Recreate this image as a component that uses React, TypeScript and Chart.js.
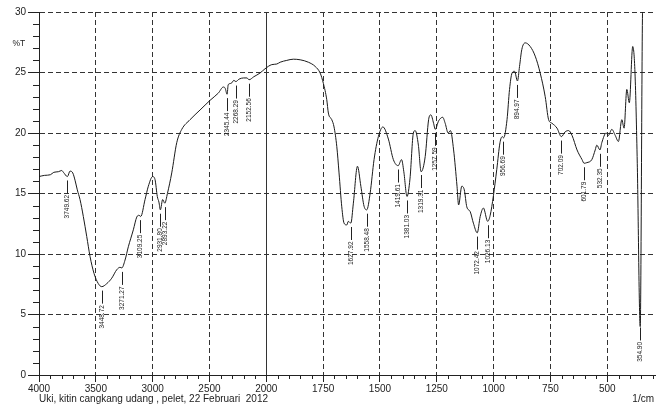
import { useEffect, useRef } from 'react';
import { Chart, registerables } from 'chart.js';

Chart.register(...registerables);

// ---- data (wavenumber in 1/cm, transmittance in %T) ----
const wavenumbers = [
  4000, 3950, 3900, 3870, 3830, 3800, 3785, 3750, 3727, 3703, 3683, 3663, 3639, 3610, 3580, 3551,
  3516, 3478, 3448, 3404, 3360, 3316, 3287, 3271, 3243, 3214, 3170, 3140, 3120, 3105, 3067, 3038,
  3000, 2979, 2959, 2945, 2932, 2912, 2893, 2870, 2832, 2788, 2744, 2671, 2583, 2495, 2422, 2378,
  2362, 2345, 2335, 2310, 2285, 2268, 2240, 2200, 2170, 2152, 2110, 2056, 2012, 1976, 1954, 1939,
  1910, 1881, 1851, 1815, 1785, 1763, 1749, 1734, 1727, 1712, 1702, 1690, 1680, 1668, 1658, 1646,
  1639, 1628, 1617, 1599, 1584, 1570, 1558, 1543, 1526, 1507, 1487, 1463, 1441, 1420, 1405, 1395,
  1381, 1368, 1353, 1345, 1331, 1319, 1301, 1286, 1276, 1264, 1257, 1242, 1224, 1213, 1200, 1190,
  1176, 1161, 1154, 1140, 1129, 1118, 1103, 1089, 1072, 1059, 1045, 1026, 1015, 1001, 986, 972,
  962, 956, 941, 930, 919, 908, 895, 886, 876, 861, 839, 817, 795, 773, 758, 743,
  721, 702, 685, 670, 655, 633, 611, 602, 590, 568, 553, 546, 532, 524, 505, 495,
  480, 465, 451, 436, 426, 414, 403, 388, 378, 368, 355, 345, 338, 290,
];
const transmittance = [
  16.4, 16.5, 16.55, 16.75, 16.8, 16.9, 16.75, 16.4, 16.85, 16.7, 16.1, 15.3, 14.5, 13.1, 11.45, 9.8,
  8.4, 7.55, 7.3, 7.55, 8.0, 8.7, 8.9, 8.85, 9.5, 10.6, 12.0, 13.05, 13.2, 13.1, 14.5, 15.6,
  16.4, 16.15, 14.75, 14.3, 13.65, 14.5, 14.2, 15.0, 16.7, 19.2, 20.3, 21.1, 21.9, 22.7, 23.3, 23.8,
  23.7, 23.2, 24.0, 24.1, 24.35, 24.25, 24.45, 24.55, 24.55, 24.4, 24.65, 24.95, 25.3, 25.65, 25.7, 25.85,
  26.0, 26.1, 26.05, 25.85, 25.5, 24.95, 24.1, 22.75, 21.65, 21.1, 20.5, 18.9, 16.7, 13.9, 12.55, 12.4,
  12.7, 12.55, 14.2, 17.25, 15.6, 13.95, 13.65, 15.05, 17.8, 19.7, 20.5, 19.5, 17.8, 17.3, 17.8, 16.8,
  14.75, 16.2, 20.0, 20.2, 19.0, 16.8, 18.05, 21.1, 21.5, 20.8, 20.3, 21.0, 21.3, 20.8, 20.0, 20.2,
  18.6, 15.6, 14.05, 15.6, 15.3, 13.9, 13.5, 12.55, 11.75, 13.1, 13.8, 12.7, 13.2, 14.8, 17.0, 19.2,
  19.7, 19.6, 21.1, 23.6, 24.95, 25.1, 24.3, 25.5, 26.9, 27.45, 27.15, 26.35, 24.95, 23.0, 21.1, 20.8,
  20.4, 19.7, 20.1, 20.2, 19.8, 18.6, 17.8, 17.5, 17.55, 17.8, 18.6, 19.0, 18.6, 19.2, 20.0, 19.8,
  20.3, 19.8, 19.3, 21.1, 20.4, 23.6, 22.5, 27.15, 24.95, 17.5, 4.0, 29.9, 33, 35,
];

const peakWavenumbers = [
  3749.62, 3448.72, 3271.27, 3109.25, 2931.8, 2893.22, 2345.44, 2268.29, 2152.56, 1627.92, 1558.48,
  1419.61, 1381.03, 1319.31, 1257.59, 1072.42, 1026.13, 956.69, 894.97, 702.09, 601.79, 532.35, 354.9,
];
const peakLabels = [
  '3749.62', '3448.72', '3271.27', '3109.25', '2931.80', '2893.22', '2345.44', '2268.29', '2152.56',
  '1627.92', '1558.48', '1419.61', '1381.03', '1319.31', '1257.59', '1072.42', '1026.13', '956.69',
  '894.97', '702.09', '601.79', '532.35', '354.90',
];

const xTickValues = [4000, 3500, 3000, 2500, 2000, 1750, 1500, 1250, 1000, 750, 500];
const xTickLabels = ['4000', '3500', '3000', '2500', '2000', '1750', '1500', '1250', '1000', '750', '500'];
const yTickValues = [0, 5, 10, 15, 20, 25, 30];
const yTickLabels = ['0', '5', '10', '15', '20', '25', '30'];
const yAxisTitle = '%T';
const xAxisUnit = '1/cm';
const sampleNote = 'Uki, kitin cangkang udang , pelet, 22 Februari  2012';

// ---- axis mapping (Shimadzu style: scale doubles below 2000 1/cm) ----
const SPLIT = 2000;
const WN_START = 4000;
const WN_END = 290;
const toU = (w: number) => (w >= SPLIT ? (WN_START - w) / 500 : (WN_START - SPLIT) / 500 + (SPLIT - w) / 250);

const FONT = '"Liberation Sans", Arial, sans-serif';
const INK = '#222';
const GRID = '#333';

function valueAt(w: number): number {
  for (let i = 0; i < wavenumbers.length - 1; i++) {
    const a = wavenumbers[i];
    const b = wavenumbers[i + 1];
    if (w <= a && w >= b) {
      const t = (a - w) / (a - b);
      return transmittance[i] + t * (transmittance[i + 1] - transmittance[i]);
    }
  }
  return transmittance[transmittance.length - 1];
}

const align = (p: number) => Math.round(p) + 0.5;

const annotations = {
  id: 'ftirAnnotations',
  beforeDatasetsDraw(chart: any) {
    const { ctx, chartArea, scales } = chart;
    const px = align(scales.x.getPixelForValue(toU(SPLIT)));
    ctx.save();
    ctx.strokeStyle = GRID;
    ctx.lineWidth = 1;
    ctx.beginPath();
    ctx.moveTo(px, chartArea.top);
    ctx.lineTo(px, chartArea.bottom);
    ctx.stroke();
    ctx.restore();
  },
  afterDraw(chart: any) {
    const { ctx, chartArea, scales } = chart;
    const x = scales.x;
    const y = scales.y;
    ctx.save();
    ctx.strokeStyle = INK;
    ctx.lineWidth = 1;
    ctx.beginPath();
    // minor ticks, y
    for (let v = 0; v <= 30; v++) {
      if (v % 5 === 0) continue;
      const py = align(y.getPixelForValue(v));
      ctx.moveTo(chartArea.left - 6, py);
      ctx.lineTo(chartArea.left, py);
    }
    // minor ticks, x
    const minor: number[] = [];
    for (let w = WN_START; w > SPLIT; w -= 100) minor.push(w);
    for (let w = SPLIT; w >= 300; w -= 50) minor.push(w);
    minor.forEach((w) => {
      if (xTickValues.includes(w)) return;
      const p = align(x.getPixelForValue(toU(w)));
      ctx.moveTo(p, chartArea.bottom);
      ctx.lineTo(p, chartArea.bottom + 4);
    });
    ctx.stroke();

    // peak labels
    ctx.fillStyle = INK;
    ctx.font = `6.5px ${FONT}`;
    peakWavenumbers.forEach((w, i) => {
      const p = align(x.getPixelForValue(toU(w)));
      const cy = y.getPixelForValue(valueAt(w));
      const y1 = cy + 4;
      const y2 = cy + 17;
      ctx.beginPath();
      ctx.moveTo(p, y1);
      ctx.lineTo(p, y2);
      ctx.stroke();
      ctx.save();
      ctx.translate(p, y2 + 1.5);
      ctx.rotate(-Math.PI / 2);
      ctx.textAlign = 'right';
      ctx.textBaseline = 'middle';
      ctx.fillText(peakLabels[i], 0, 0);
      ctx.restore();
    });

    // texts
    ctx.font = `8.5px ${FONT}`;
    ctx.textAlign = 'left';
    ctx.textBaseline = 'middle';
    ctx.fillText(yAxisTitle, 12.5, 44);
    ctx.font = `10px ${FONT}`;
    ctx.fillText(sampleNote, 39, 399.5);
    ctx.textAlign = 'right';
    ctx.fillText(xAxisUnit, 654, 399.5);
    ctx.restore();
  },
};

export default function App() {
  const canvasRef = useRef<HTMLCanvasElement | null>(null);

  useEffect(() => {
    const canvas = canvasRef.current;
    if (!canvas) return;
    const chart = new Chart(canvas, {
      type: 'line',
      data: {
        datasets: [
          {
            data: wavenumbers.map((w, i) => ({ x: toU(w), y: transmittance[i] })),
            borderColor: '#1a1a1a',
            borderWidth: 1,
            pointRadius: 0,
            cubicInterpolationMode: 'monotone',
            fill: false,
          },
        ],
      },
      options: {
        animation: false,
        responsive: false,
        devicePixelRatio: 1,
        layout: { padding: { top: 12, right: 7, left: 0, bottom: 0 } },
        plugins: { legend: { display: false }, tooltip: { enabled: false } },
        events: [],
        scales: {
          x: {
            type: 'linear',
            min: 0,
            max: toU(WN_END),
            afterBuildTicks: (axis: any) => {
              axis.ticks = xTickValues.map((w) => ({ value: toU(w) }));
            },
            afterFit: (s: any) => {
              s.height = 31;
            },
            ticks: {
              callback: (_v: any, i: number) => xTickLabels[i],
              font: { size: 10, family: FONT },
              color: INK,
              padding: 1,
              maxRotation: 0,
              autoSkip: false,
            },
            grid: {
              color: (c: any) => (c.tick && (c.tick.value === 0 || c.tick.value === toU(SPLIT)) ? 'rgba(0,0,0,0)' : GRID),
              tickColor: INK,
              tickLength: 7,
              tickBorderDash: [],
            },
            border: { color: INK, width: 1, dash: [5, 3] },
          },
          y: {
            type: 'linear',
            min: 0,
            max: 30,
            afterBuildTicks: (axis: any) => {
              axis.ticks = yTickValues.map((v) => ({ value: v }));
            },
            afterFit: (s: any) => {
              s.width = 39;
            },
            ticks: {
              callback: (_v: any, i: number) => yTickLabels[i],
              font: { size: 10, family: FONT },
              color: INK,
              padding: 2,
            },
            grid: {
              color: (c: any) => (c.tick && c.tick.value === 0 ? 'rgba(0,0,0,0)' : GRID),
              tickColor: INK,
              tickLength: 11,
              tickBorderDash: [],
            },
            border: { color: INK, width: 1, dash: [5, 3] },
          },
        },
      } as any,
      plugins: [annotations],
    });
    return () => chart.destroy();
  }, []);

  return (
    <div style={{ position: 'fixed', left: 0, top: 0, width: 662, height: 406, background: '#fff' }}>
      <canvas ref={canvasRef} width={662} height={406} style={{ display: 'block', width: 662, height: 406 }} />
    </div>
  );
}
